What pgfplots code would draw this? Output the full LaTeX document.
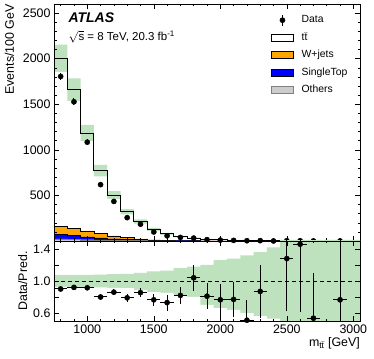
\documentclass[border=0pt]{standalone}
\usepackage{fontspec}
\setmainfont{Liberation Sans}
\usepackage{pgfplots}
\usepackage{pgfplotstable}
\pgfplotsset{compat=1.18}

\definecolor{wjets}{RGB}{255,165,0}
\definecolor{stop}{RGB}{0,0,255}
\definecolor{others}{RGB}{204,204,204}
\definecolor{bandgreen}{RGB}{190,225,190}

% left bin edges, cumulative stacks, MC band (absolute and relative)
\pgfplotstableread{
x    tot   wj   st   ot   lo   hi   rlo   rhi
750  2005  159  74   22   1855 2155 0.925 1.075
850  1660  137  63   18   1536 1785 0.925 1.075
950  1185  111  44   14   1096 1274 0.925 1.075
1050 772   85   33   10   710  834  0.92  1.08
1150 505   55   22   7    462  548  0.915 1.085
1250 322   37   15   5    293  351  0.91  1.09
1350 215   22   10   3.5  191  237  0.89  1.10
1450 128   14   7    2.5  110  143  0.86  1.12
1550 78    9    4.5  1.8  66   88   0.85  1.13
1650 48    6    3    1.2  39   56   0.82  1.16
1750 31    4    2    0.8  25   37   0.80  1.18
1850 19    3    1.4  0.6  14   23   0.70  1.20
1950 13    2    1    0.4  9    16   0.66  1.26
2050 9     1.5  0.7  0.3  6    11.5 0.64  1.28
2150 6     1    0.5  0.2  3.7  7.9  0.60  1.32
2250 4.6   0.7  0.35 0.15 2.7  6.3  0.56  1.36
2350 3.2   0.5  0.25 0.1  1.8  4.5  0.53  1.42
2450 2.3   0.35 0.18 0.08 0    12   0.4   1.6
2550 1.6   0.25 0.12 0.05 0    12   0.4   1.6
2650 1.1   0.18 0.08 0.04 0    12   0.4   1.6
2750 0.8   0.12 0.06 0.03 0    12   0.4   1.6
2850 0.55  0.08 0.04 0.02 0    12   0.4   1.6
2950 0.4   0.06 0.03 0.01 0    12   0.4   1.6
3050 0.4   0.06 0.03 0.01 0    12   0.4   1.6
}\mc

\pgfplotstableread{
x    d     de
800  1805  42
900  1527  39
1000 1084  33
1100 618   25
1200 434   21
1300 256   16
1400 184   14
1500 99    10
1600 57    7.5
1700 39    6.2
1800 32    5.7
1900 15    3.9
2000 10    3.2
2100 7     2.6
2200 3     1.7
2300 4     2
2400 0.3   0.5
2500 2.9   1.7
2600 2.3   1.5
2700 0.6   0.8
2900 0.4   0.6
}\data

\pgfplotstableread{
x    r     re    xe
800  0.90  0.02  50
900  0.92  0.025 50
1000 0.915 0.03  50
1100 0.80  0.035 50
1200 0.86  0.04  50
1300 0.79  0.05  50
1400 0.855 0.055 50
1500 0.765 0.075 50
1600 0.73  0.10  50
1700 0.82  0.11  50
1800 1.04  0.16  50
1900 0.81  0.16  50
2000 0.765 0.20  50
2100 0.77  0.22  50
2200 0.51  0.25  50
2300 0.87  0.33  50
2500 1.28  0.65  50
2600 1.46  0.85  50
2700 0.535 0.56  50
2900 0.765 1.0   50
}\ratio

\pgfplotsset{atlas/.style={
  width=306pt, scale only axis,
  xmin=750, xmax=3050,
  tick align=inside, xtick pos=both, ytick pos=both,
  major tick length=5pt, minor tick length=2.5pt,
  every tick/.style={black, line width=0.5pt},
  axis line style={line width=0.6pt},
  axis on top,
  xtick={1000,1500,...,3000},
  minor xtick={800,900,...,3000},
  /pgf/number format/assume math mode=true,
  /pgf/number format/1000 sep={},
  tick label style={font=\fontsize{12.4}{14}\selectfont},
  label style={font=\fontsize{12.4}{14}\selectfont},
}}

\begin{document}
\begin{tikzpicture}
\begin{axis}[atlas, name=top, at={(0,0)}, anchor=south west,
  height=237pt, ymin=0, ymax=2600,
  xticklabels={},
  ytick={500,1000,...,2500}, minor ytick={100,200,...,2600},
  ylabel={Events/100 GeV},
  ylabel style={at={(axis description cs:-0.131,1)}, anchor=base east, inner sep=0pt},
  legend cell align=left,
  legend style={at={(axis description cs:0.709,0.963)}, anchor=north west,
    draw=none, fill=none, inner sep=0pt, row sep=3pt,
    font=\fontsize{10.4}{12}\selectfont,
    nodes={text height=8pt, text depth=2.5pt}},
]
\addlegendimage{legend image code/.code={
  \draw[black, line width=1pt] (11pt,-5.5pt)--(11pt,5.5pt);
  \fill[black] (11pt,0pt) circle (2.6pt); \path (28pt,0pt);}}
\addlegendentry{Data}
\addlegendimage{legend image code/.code={
  \draw[fill=white, draw=black, line width=0.6pt] (0pt,-3.5pt) rectangle (22pt,3.5pt); \path (28pt,0pt);}}
\addlegendentry{t$\bar{\mbox{t}}$}
\addlegendimage{legend image code/.code={
  \draw[fill=wjets, draw=black, line width=0.6pt] (0pt,-3.5pt) rectangle (22pt,3.5pt); \path (28pt,0pt);}}
\addlegendentry{W+jets}
\addlegendimage{legend image code/.code={
  \draw[fill=stop, draw=black, line width=0.6pt] (0pt,-3.5pt) rectangle (22pt,3.5pt); \path (28pt,0pt);}}
\addlegendentry{SingleTop}
\addlegendimage{legend image code/.code={
  \draw[fill=others, draw=gray, line width=0.6pt] (0pt,-3.5pt) rectangle (22pt,3.5pt); \path (28pt,0pt);}}
\addlegendentry{Others}

% MC uncertainty band: green up to hi, white up to lo
\addplot[const plot mark left, fill=bandgreen, draw=none, forget plot]
  table[x=x, y=hi] {\mc} \closedcycle;
\addplot[const plot mark left, fill=white, draw=none, forget plot]
  table[x=x, y=lo] {\mc} \closedcycle;

% stacked backgrounds
\addplot[const plot mark left, fill=wjets, draw=black, line width=0.4pt, forget plot]
  table[x=x, y=wj] {\mc} \closedcycle;
\addplot[const plot mark left, fill=stop, draw=black, line width=0.4pt, forget plot]
  table[x=x, y=st] {\mc} \closedcycle;
\addplot[const plot mark left, fill=others, draw=gray, line width=0.4pt, forget plot]
  table[x=x, y=ot] {\mc} \closedcycle;

% total prediction
\addplot[const plot mark left, black, line width=0.9pt, forget plot] table[x=x, y=tot] {\mc};

% data
\addplot[only marks, mark=*, mark size=2.6pt, black, forget plot,
  error bars/.cd, y dir=both, y explicit,
  error bar style={line width=1pt}, error mark=none]
  table[x=x, y=d, y error=de] {\data};

\node[anchor=base west, font=\fontsize{14}{16}\selectfont\bfseries\itshape]
  at (axis description cs:0.036,0.924) {ATLAS};
\node[anchor=base west, font=\fontsize{11.5}{13}\selectfont]
  at (axis description cs:0.036,0.846) {$\sqrt{\mbox{s}}$ = 8 TeV, 20.3 fb\textsuperscript{-1}};
\end{axis}

\begin{axis}[atlas, at={(top.south west)}, anchor=north west,
  height=80pt, ymin=0.5, ymax=1.5,
  ytick={0.6,0.8,1.0,1.2,1.4}, yticklabels={0.6,,1.0,,1.4},
  xlabel={m\textsubscript{t$\bar{\mbox{t}}$} [GeV]},
  xlabel style={at={(axis description cs:1,0)}, anchor=base east, inner sep=0pt, yshift=-25pt},
  ylabel={Data/Pred.},
  ylabel style={at={(axis description cs:-0.088,0.5)}, anchor=base, inner sep=0pt},
]
\addplot[const plot mark left, fill=bandgreen, draw=none] table[x=x, y=rhi] {\mc} \closedcycle;
\addplot[const plot mark left, fill=white, draw=none] table[x=x, y=rlo] {\mc} \closedcycle;

\addplot[black, dashed, line width=0.8pt, dash pattern=on 4pt off 3pt]
  coordinates {(750,1) (3050,1)};

\addplot[only marks, mark=*, mark size=2.6pt, black,
  error bars/.cd, x dir=both, x explicit, y dir=both, y explicit,
  error bar style={line width=1pt}, error mark=none]
  table[x=x, y=r, x error=xe, y error=re] {\ratio};
\end{axis}

\pgfresetboundingbox
\path (-54pt,-117pt) rectangle (320pt,241pt);
\end{tikzpicture}
\end{document}
